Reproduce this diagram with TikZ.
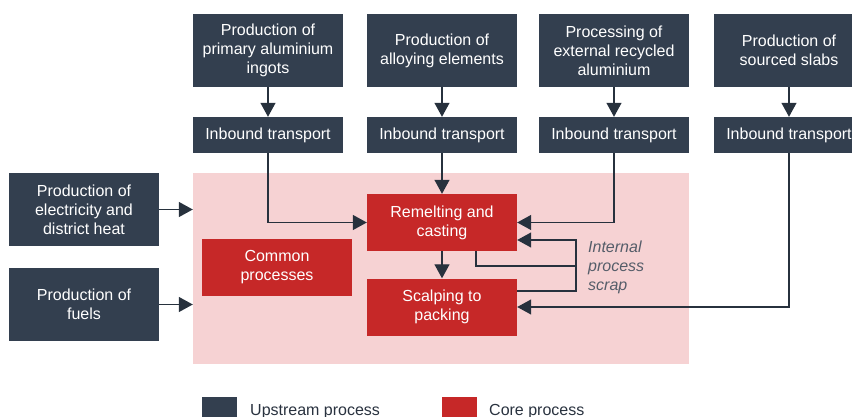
\documentclass[tikz,border=0pt]{standalone}
\usepackage{fontspec}
\setmainfont{Liberation Sans}
\usepackage{xcolor}
\usepackage{tikz}
\usetikzlibrary{
  arrows.meta,
  positioning,
  calc
}
\definecolor{UpstreamNavy}{HTML}{333F4F}
\definecolor{CoreRed}{HTML}{C62828}
\definecolor{CorePink}{HTML}{F6D2D3}
\definecolor{LineDark}{HTML}{27313D}
\definecolor{LabelGray}{HTML}{555D69}
\tikzset{
  upstream/.style={
    fill=UpstreamNavy,
    text=white,
    align=center,
    inner sep=0pt,
    minimum width=150pt,
    minimum height=73pt
  },
  transport/.style={
    upstream,
    minimum height=36pt
  },
  core/.style={
    fill=CoreRed,
    text=white,
    align=center,
    inner sep=0pt,
    minimum width=150pt,
    minimum height=57pt
  },
  corearea/.style={
    fill=CorePink,
    minimum width=496pt,
    minimum height=191pt
  },
  legendbox/.style={
    minimum width=35pt,
    minimum height=24pt,
    inner sep=0pt
  },
  flow/.style={
    -{Triangle[length=14pt,width=15pt]},
    draw=LineDark,
    line width=1.3pt
  },
  scrapline/.style={
    draw=LineDark,
    line width=1.3pt
  }
}

\begin{document}
\begin{tikzpicture}[x=1pt,y=-1pt,font=\fontsize{16}{19}\selectfont]

  \useasboundingbox (0,0) rectangle (852,417);

  % core area in the background
  \node[corearea] at (441,268.5) (area) {};

  % upstream processes, top row
  \node[upstream] at (268,50.5) (primary) {
    Production of\\primary aluminium\\ingots
  };

  \node[upstream] at (442,50.5) (alloying) {
    Production of\\alloying elements
  };

  \node[upstream] at (614,50.5) (recycled) {
    Processing of\\external recycled\\aluminium
  };

  \node[upstream] at (789,50.5) (slabs) {
    Production of\\sourced slabs
  };

  % inbound transport
  \node[transport] at (268,135) (inprimary) {Inbound transport};
  \node[transport] at (442,135) (inalloying) {Inbound transport};
  \node[transport] at (614,135) (inrecycled) {Inbound transport};
  \node[transport] at (789,135) (inslabs) {Inbound transport};

  % upstream processes, left column
  \node[upstream] at (84,209.5) (electricity) {
    Production of\\electricity and\\district heat
  };

  \node[upstream] at (84,304.5) (fuels) {
    Production of\\fuels
  };

  % core processes
  \node[core] at (277,267.5) (common) {
    Common\\processes
  };

  \node[core] at (442,222.5) (remelting) {
    Remelting and\\casting
  };

  \node[core] at (442,307) (scalping) {
    Scalping to\\packing
  };

  \node[
    anchor=west,
    align=left,
    inner sep=0pt,
    text=LabelGray,
    font=\itshape\fontsize{16}{19}\selectfont
  ] at (588,267) (scraplabel) {
    Internal\\process\\scrap
  };

  % arrows
  \foreach \a/\b in {primary/inprimary,alloying/inalloying,
    recycled/inrecycled,slabs/inslabs} {
    \draw[flow] (\a) -- (\b);
  }

  \draw[flow] (electricity.east) -- (electricity.east -| area.west);
  \draw[flow] (fuels.east) -- (fuels.east -| area.west);

  \draw[flow] (inprimary.south) |- (remelting.west);
  \draw[flow] (inalloying) -- (remelting);
  \draw[flow] (inrecycled.south) |- (remelting.east);
  \draw[flow] (inslabs.south) |- (scalping.east);
  \draw[flow] (remelting) -- (scalping);

  % internal process scrap loop
  \coordinate (scrapjoin) at (576,266);

  \draw[flow]
  ([xshift=34pt]remelting.south) |-
  (scrapjoin) |-
  ([yshift=-17.5pt]remelting.east);

  \draw[scrapline]
  ([yshift=16pt]scalping.east) -|
  (scrapjoin);

  % legend
  \node[legendbox, fill=UpstreamNavy] at (219.5,409) (legupstream) {};
  \node[legendbox, fill=CoreRed] at (459,409) (legcore) {};

  \node[anchor=base west, inner sep=0pt, text=UpstreamNavy!80!black]
  at (250,415.5) (legupstreamtext) {Upstream process};

  \node[anchor=base west, inner sep=0pt, text=UpstreamNavy!80!black]
  at (489,415.5) (legcoretext) {Core process};

\end{tikzpicture}
\end{document}
